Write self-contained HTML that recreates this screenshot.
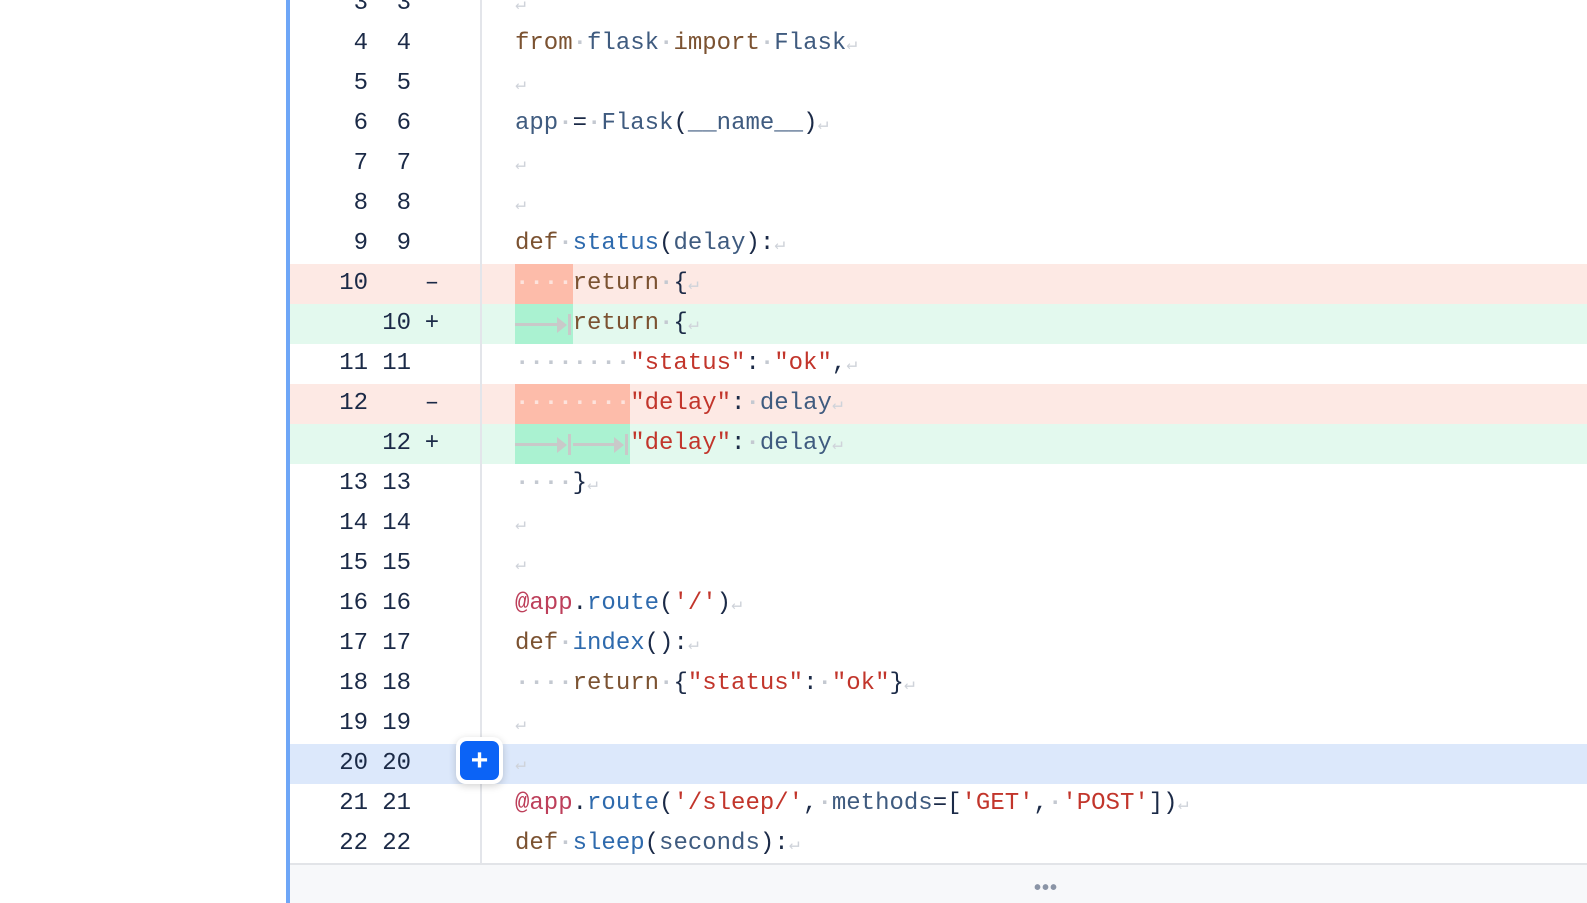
<!DOCTYPE html>
<html><head><meta charset="utf-8"><style>
*{margin:0;padding:0;box-sizing:border-box}
body{width:1587px;height:903px;overflow:hidden;background:#fff;position:relative;font-family:"Liberation Mono","DejaVu Sans Mono",monospace;font-size:24px}
#bar{position:absolute;left:286px;top:0;width:4px;height:903px;background:#6ea6f7}
#gut{position:absolute;left:480px;top:0;width:2px;height:864px;background:#e3e5ea}
#rows{position:absolute;left:290px;top:-16px;right:0}
.r{position:relative;height:40px;line-height:40px;color:#1b2a47}
.d{background:#fde9e4}.a{background:#e3f9ee}.s{background:#dce8fb}
.o{position:absolute;left:0;width:78px;text-align:right}
.n{position:absolute;left:78px;width:43px;text-align:right}
.g{position:absolute;left:132px;width:20px;text-align:center}
.c{position:absolute;left:225px;white-space:pre}
.k{color:#7b5231}.v{color:#3f5b7f}.f{color:#2e6aad}.st{color:#c2352b}.at{color:#bd3f5a}
.w{color:#c4c9d1;font-weight:bold}.e{color:#cfd3da;font-size:18px}
.dh{background:#fdbcaa;display:inline-block;color:#fde3dc}
.ah{background:#aaf2d1;display:inline-block}
.tab{display:inline-block;width:57.6px;height:40px;vertical-align:top;position:relative}
.tab:before{content:"";position:absolute;left:0;right:10px;top:19px;height:3px;background:#c9c9c9}
.tab:after{content:"";position:absolute;right:2px;top:10px;width:3px;height:21px;background:#c9c9c9}
.tab i{position:absolute;right:6px;top:13px;border-left:10px solid #c9c9c9;border-top:8px solid transparent;border-bottom:8px solid transparent}
#btn{position:absolute;left:456px;top:737px;width:47px;height:47px;border-radius:10px;background:#fff;box-shadow:0 2px 8px rgba(0,0,0,.18)}
#btn div{position:absolute;left:4px;top:4px;width:39px;height:39px;border-radius:7px;background:#0b63f6;color:#fff;font:bold 30px/39px "Liberation Sans",sans-serif;text-align:center}
#foot{position:absolute;left:290px;top:863px;right:0;height:40px;background:#f7f8fa;border-top:2px solid #e2e4e8}
#foot span{position:absolute;left:744px;top:12px;color:#8a94a6;font:bold 20px "Liberation Sans",sans-serif;letter-spacing:1px}
</style></head><body>
<div id="bar"></div>
<div id="rows">
<div class="r"><span class="o">3</span><span class="n">3</span><span class="c"><span class="e">↵</span></span></div>
<div class="r"><span class="o">4</span><span class="n">4</span><span class="c"><span class="k">from</span><span class="w">·</span><span class="v">flask</span><span class="w">·</span><span class="k">import</span><span class="w">·</span><span class="v">Flask</span><span class="e">↵</span></span></div>
<div class="r"><span class="o">5</span><span class="n">5</span><span class="c"><span class="e">↵</span></span></div>
<div class="r"><span class="o">6</span><span class="n">6</span><span class="c"><span class="v">app</span><span class="w">·</span>=<span class="w">·</span><span class="v">Flask</span>(<span class="v">__name__</span>)<span class="e">↵</span></span></div>
<div class="r"><span class="o">7</span><span class="n">7</span><span class="c"><span class="e">↵</span></span></div>
<div class="r"><span class="o">8</span><span class="n">8</span><span class="c"><span class="e">↵</span></span></div>
<div class="r"><span class="o">9</span><span class="n">9</span><span class="c"><span class="k">def</span><span class="w">·</span><span class="f">status</span>(<span class="v">delay</span>):<span class="e">↵</span></span></div>
<div class="r d"><span class="o">10</span><span class="n"></span><span class="g">–</span><span class="c"><span class="dh w">····</span><span class="k">return</span><span class="w">·</span>{<span class="e">↵</span></span></div>
<div class="r a"><span class="o"></span><span class="n">10</span><span class="g">+</span><span class="c"><span class="ah"><span class="tab"><i></i></span></span><span class="k">return</span><span class="w">·</span>{<span class="e">↵</span></span></div>
<div class="r"><span class="o">11</span><span class="n">11</span><span class="c"><span class="w">········</span><span class="st">"status"</span>:<span class="w">·</span><span class="st">"ok"</span>,<span class="e">↵</span></span></div>
<div class="r d"><span class="o">12</span><span class="n"></span><span class="g">–</span><span class="c"><span class="dh w">········</span><span class="st">"delay"</span>:<span class="w">·</span><span class="v">delay</span><span class="e">↵</span></span></div>
<div class="r a"><span class="o"></span><span class="n">12</span><span class="g">+</span><span class="c"><span class="ah"><span class="tab"><i></i></span><span class="tab"><i></i></span></span><span class="st">"delay"</span>:<span class="w">·</span><span class="v">delay</span><span class="e">↵</span></span></div>
<div class="r"><span class="o">13</span><span class="n">13</span><span class="c"><span class="w">····</span>}<span class="e">↵</span></span></div>
<div class="r"><span class="o">14</span><span class="n">14</span><span class="c"><span class="e">↵</span></span></div>
<div class="r"><span class="o">15</span><span class="n">15</span><span class="c"><span class="e">↵</span></span></div>
<div class="r"><span class="o">16</span><span class="n">16</span><span class="c"><span class="at">@app</span>.<span class="f">route</span>(<span class="st">'/'</span>)<span class="e">↵</span></span></div>
<div class="r"><span class="o">17</span><span class="n">17</span><span class="c"><span class="k">def</span><span class="w">·</span><span class="f">index</span>():<span class="e">↵</span></span></div>
<div class="r"><span class="o">18</span><span class="n">18</span><span class="c"><span class="w">····</span><span class="k">return</span><span class="w">·</span>{<span class="st">"status"</span>:<span class="w">·</span><span class="st">"ok"</span>}<span class="e">↵</span></span></div>
<div class="r"><span class="o">19</span><span class="n">19</span><span class="c"><span class="e">↵</span></span></div>
<div class="r s"><span class="o">20</span><span class="n">20</span><span class="c"><span class="e">↵</span></span></div>
<div class="r"><span class="o">21</span><span class="n">21</span><span class="c"><span class="at">@app</span>.<span class="f">route</span>(<span class="st">'/sleep/'</span>,<span class="w">·</span><span class="v">methods</span>=[<span class="st">'GET'</span>,<span class="w">·</span><span class="st">'POST'</span>])<span class="e">↵</span></span></div>
<div class="r"><span class="o">22</span><span class="n">22</span><span class="c"><span class="k">def</span><span class="w">·</span><span class="f">sleep</span>(<span class="v">seconds</span>):<span class="e">↵</span></span></div>
</div>
<div id="gut"></div>
<div id="btn"><div>+</div></div>
<div id="foot"><span>•••</span></div>
</body></html>
